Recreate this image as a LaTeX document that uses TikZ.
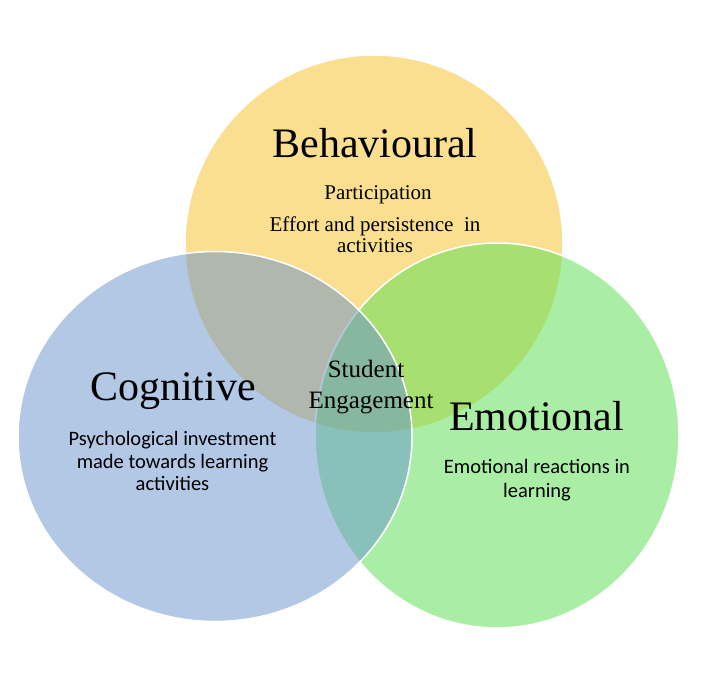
\documentclass[tikz,border=0pt]{standalone}
\usepackage{fontspec}
\setmainfont{Liberation Serif}
\newfontfamily\bodysans{Carlito}
\newfontfamily\bodyserif{Liberation Serif}
\definecolor{cyellow}{RGB}{249,223,143}
\definecolor{cgreen}{RGB}{93,224,86}
\definecolor{cblue}{RGB}{105,147,205}
\tikzset{
  setcircle/.style={draw=white, line width=1.5pt},
  title/.style={anchor=base, inner sep=0pt, font=\bodyserif\fontsize{42}{48}\selectfont},
  serifline/.style={anchor=base, inner sep=0pt, font=\bodyserif\fontsize{21}{24}\selectfont},
  centreline/.style={anchor=base, inner sep=0pt, font=\bodyserif\fontsize{25}{29}\selectfont},
  sansline/.style={anchor=base, inner sep=0pt, font=\bodysans\fontsize{20.5}{23}\selectfont},
}
\begin{document}
\begin{tikzpicture}[x=1pt,y=-1pt]
\useasboundingbox (0,0) rectangle (722,684);
\fill[white] (0,0) rectangle (722,684);
% circles
\path[setcircle, fill=cyellow] (374,244) ellipse [x radius=189pt, y radius=189pt];
\path[setcircle, fill=cgreen, fill opacity=0.52] (497,435.5) ellipse [x radius=182pt, y radius=192.5pt];
\path[setcircle, fill=cblue, fill opacity=0.5] (215,436.5) ellipse [x radius=197pt, y radius=185pt];
% Behavioural
\node[title] (beh) at (375,158) {Behavioural};
\node[serifline] (beh1) at (378,200) {Participation};
\node[serifline] (beh2) at (375,232) {Effort and persistence\ \ in};
\node[serifline] (beh3) at (375,253) {activities};
% Cognitive
\node[title] (cog) at (173,400) {Cognitive};
\node[sansline] (cog1) at (172.5,445) {Psychological investment};
\node[sansline] (cog2) at (172.5,468) {made towards learning};
\node[sansline] (cog3) at (172.5,490) {activities};
% Emotional
\node[title] (emo) at (536.5,430) {Emotional};
\node[sansline] (emo1) at (537,473) {Emotional reactions in};
\node[sansline] (emo2) at (537,497) {learning};
% centre
\node[centreline] (stu1) at (366,377) {Student};
\node[centreline] (stu2) at (371,408) {Engagement};
\end{tikzpicture}
\end{document}
